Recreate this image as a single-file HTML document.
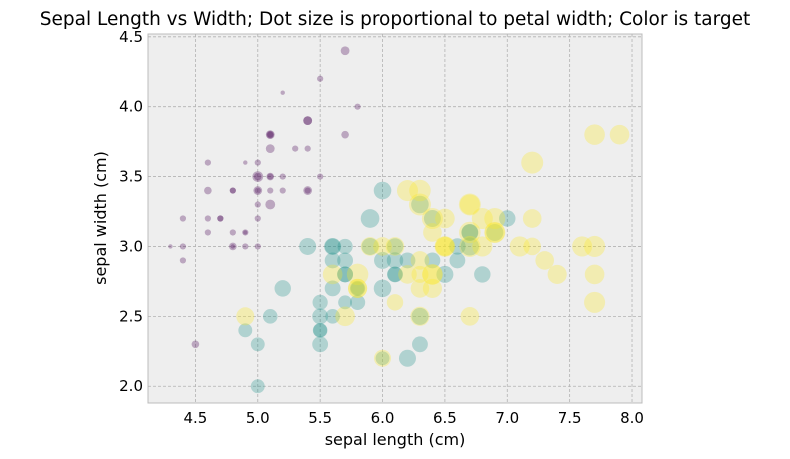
<!DOCTYPE html>
<html><head><meta charset="utf-8"><style>
html,body{margin:0;padding:0;background:#fff;}
svg{display:block;font-family:"DejaVu Sans","Liberation Sans",sans-serif;}
</style></head><body>
<svg id="chart" width="790" height="459" viewBox="0 0 790 459">
<text x="395" y="25" text-anchor="middle" font-size="18.5" fill="#000">Sepal Length vs Width; Dot size is proportional to petal width; Color is target</text>
<rect x="148" y="34" width="494" height="369" fill="#eeeeee" stroke="#bcbcbc" stroke-width="1"/>
<g id="grid"></g>
<g id="ticks"></g>
<g id="points"></g>
<text x="395" y="445" text-anchor="middle" font-size="16" fill="#000">sepal length (cm)</text>
<text x="106" y="218" text-anchor="middle" font-size="16" fill="#000" transform="rotate(-90 106 218)">sepal width (cm)</text>
</svg>
<script>
const sepalLength=[5.1,4.9,4.7,4.6,5.0,5.4,4.6,5.0,4.4,4.9,5.4,4.8,4.8,4.3,5.8,5.7,5.4,5.1,5.7,5.1,5.4,5.1,4.6,5.1,4.8,5.0,5.0,5.2,5.2,4.7,4.8,5.4,5.2,5.5,4.9,5.0,5.5,4.9,4.4,5.1,5.0,4.5,4.4,5.0,5.1,4.8,5.1,4.6,5.3,5.0,
7.0,6.4,6.9,5.5,6.5,5.7,6.3,4.9,6.6,5.2,5.0,5.9,6.0,6.1,5.6,6.7,5.6,5.8,6.2,5.6,5.9,6.1,6.3,6.1,6.4,6.6,6.8,6.7,6.0,5.7,5.5,5.5,5.8,6.0,5.4,6.0,6.7,6.3,5.6,5.5,5.5,6.1,5.8,5.0,5.6,5.7,5.7,6.2,5.1,5.7,
6.3,5.8,7.1,6.3,6.5,7.6,4.9,7.3,6.7,7.2,6.5,6.4,6.8,5.7,5.8,6.4,6.5,7.7,7.7,6.0,6.9,5.6,7.7,6.3,6.7,7.2,6.2,6.1,6.4,7.2,7.4,7.9,6.4,6.3,6.1,7.7,6.3,6.4,6.0,6.9,6.7,6.9,5.8,6.8,6.7,6.7,6.3,6.5,6.2,5.9];
const sepalWidth=[3.5,3.0,3.2,3.1,3.6,3.9,3.4,3.4,2.9,3.1,3.7,3.4,3.0,3.0,4.0,4.4,3.9,3.5,3.8,3.8,3.4,3.7,3.6,3.3,3.4,3.0,3.4,3.5,3.4,3.2,3.1,3.4,4.1,4.2,3.1,3.2,3.5,3.6,3.0,3.4,3.5,2.3,3.2,3.5,3.8,3.0,3.8,3.2,3.7,3.3,
3.2,3.2,3.1,2.3,2.8,2.8,3.3,2.4,2.9,2.7,2.0,3.0,2.2,2.9,2.9,3.1,3.0,2.7,2.2,2.5,3.2,2.8,2.5,2.8,2.9,3.0,2.8,3.0,2.9,2.6,2.4,2.4,2.7,2.7,3.0,3.4,3.1,2.3,3.0,2.5,2.6,3.0,2.6,2.3,2.7,3.0,2.9,2.9,2.5,2.8,
3.3,2.7,3.0,2.9,3.0,3.0,2.5,2.9,2.5,3.6,3.2,2.7,3.0,2.5,2.8,3.2,3.0,3.8,2.6,2.2,3.2,2.8,2.8,2.7,3.3,3.2,2.8,3.0,2.8,3.0,2.8,3.8,2.8,2.8,2.6,3.0,3.4,3.1,3.0,3.1,3.1,3.1,2.7,3.2,3.3,3.0,2.5,3.0,3.4,3.0];
const petalWidth=[0.2,0.2,0.2,0.2,0.2,0.4,0.3,0.2,0.2,0.1,0.2,0.2,0.1,0.1,0.2,0.4,0.4,0.3,0.3,0.3,0.2,0.4,0.2,0.5,0.2,0.2,0.4,0.2,0.2,0.2,0.2,0.4,0.1,0.2,0.2,0.2,0.2,0.1,0.2,0.2,0.3,0.3,0.2,0.6,0.4,0.3,0.2,0.2,0.2,0.2,
1.4,1.5,1.5,1.3,1.5,1.3,1.6,1.0,1.3,1.4,1.0,1.5,1.0,1.4,1.3,1.4,1.5,1.0,1.5,1.1,1.8,1.3,1.5,1.2,1.3,1.4,1.4,1.7,1.5,1.0,1.1,1.0,1.2,1.6,1.5,1.6,1.5,1.3,1.3,1.3,1.2,1.4,1.2,1.0,1.3,1.2,1.3,1.3,1.1,1.3,
2.5,1.9,2.1,1.8,2.2,2.1,1.7,1.8,1.8,2.5,2.0,1.9,2.1,2.0,2.4,2.3,1.8,2.2,2.3,1.5,2.3,2.0,2.0,1.8,2.1,1.8,1.8,1.8,2.1,1.6,1.9,2.0,2.2,1.5,1.4,2.3,2.4,1.8,1.8,2.1,2.4,2.3,1.9,2.3,2.5,2.3,1.9,2.0,2.3,1.8];
const target=[];for(let i=0;i<150;i++)target.push(Math.floor(i/50));
const xTicks=[4.5,5.0,5.5,6.0,6.5,7.0,7.5,8.0];
const yTicks=[2.0,2.5,3.0,3.5,4.0,4.5];
const colors=['#440154','#21918c','#fde725'];
const L=148,R=642,T=34,B=403,xmin=4.12,xmax=8.08,ymin=1.88,ymax=4.52;
const X=v=>L+(v-xmin)/(xmax-xmin)*(R-L);
const Y=v=>B-(v-ymin)/(ymax-ymin)*(B-T);
const NS='http://www.w3.org/2000/svg';
const grid=document.getElementById('grid'),ticks=document.getElementById('ticks'),pts=document.getElementById('points');
function mk(t,a){const e=document.createElementNS(NS,t);for(const k in a)e.setAttribute(k,a[k]);return e;}
xTicks.forEach(v=>{
 const g=mk('line',{x1:X(v),x2:X(v),y1:T,y2:B,stroke:'#b2b2b2','stroke-width':0.8,'stroke-dasharray':'3,2'});
 
 
 grid.appendChild(g);
 const t=mk('text',{x:X(v),y:B+20,'text-anchor':'middle','font-size':15,fill:'#000'});
 
 
 t.textContent=v.toFixed(1);ticks.appendChild(t);
});
yTicks.forEach(v=>{
 const g=mk('line',{x1:L,x2:R,y1:Y(v),y2:Y(v),stroke:'#b2b2b2','stroke-width':0.8,'stroke-dasharray':'3,2'});
 
 
 grid.appendChild(g);
 const t=mk('text',{x:L-5,y:Y(v)+5,'text-anchor':'end','font-size':15,fill:'#000'});
 
 
 t.textContent=v.toFixed(1);ticks.appendChild(t);
});
for(let i=0;i<sepalLength.length;i++){
 const r=Math.sqrt(petalWidth[i]*100)/2*100/72;
 const c=mk('circle',{cx:X(sepalLength[i]),cy:Y(sepalWidth[i]),r:r,fill:colors[target[i]],'fill-opacity':0.3});
 
 
 pts.appendChild(c);
}
</script>
</body></html>
